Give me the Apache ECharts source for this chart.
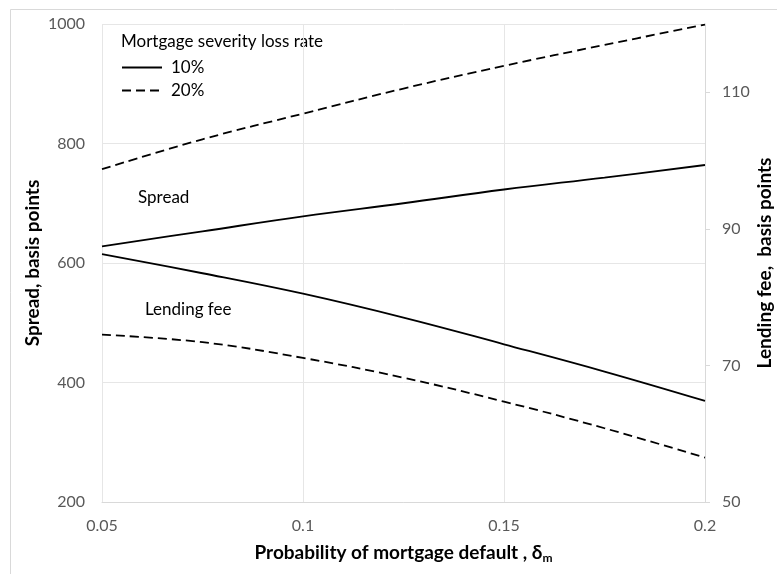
<!DOCTYPE html>
<html>
<head>
<meta charset="utf-8">
<script src="https://cdn.jsdelivr.net/npm/echarts@6/dist/echarts.min.js"></script>
<style>
html,body{margin:0;padding:0;background:#fff;}
#chart{width:777px;height:574px;}
</style>
</head>
<body>
<div id="chart"></div>
<script>
// Probability of mortgage default
var defaultProb = [0.05, 0.075, 0.1, 0.125, 0.15, 0.175, 0.2];
// Spread (basis points, left axis)
var spread10 = [628, 653, 678, 700, 723, 743, 764];
var spread20 = [757, 807, 850, 892, 930, 965, 999];
// Lending fee (basis points, right axis)
var fee10 = [86.3, 83.5, 80.5, 77.0, 73.1, 69.1, 64.8];
var fee20 = [74.5, 73.4, 71.1, 68.2, 64.7, 60.8, 56.5];
// tick labels
var xTicks = ['0.05', '0.1', '0.15', '0.2'];

function pairs(xs, ys) { return xs.map(function (x, i) { return [x, ys[i]]; }); }

var FONT = 'Lato';
var chart = echarts.init(document.getElementById('chart'));
var lineSolid = { color: '#000', width: 1.8, type: 'solid' };
var lineDash = { color: '#000', width: 1.8, type: [9, 5] };

chart.setOption({
  animation: false,
  backgroundColor: '#fff',
  textStyle: { fontFamily: FONT },
  grid: { left: 102, right: 72, top: 24, bottom: 72, outerBoundsMode: 'none', containLabel: false },
  legend: {
    data: ['10%', '20%'],
    orient: 'vertical',
    left: 116, top: 54,
    itemWidth: 40, itemHeight: 10, itemGap: 6,
    itemStyle: { opacity: 0 },
    textStyle: { fontFamily: FONT, fontSize: 17, color: '#000', padding: [0, 0, 0, 4] }
  },
  xAxis: {
    type: 'value', min: 0.05, max: 0.2, interval: 0.05,
    name: '{a|Probability of mortgage default , δ}{s|m}',
    nameLocation: 'middle', nameGap: 39,
    nameTextStyle: {
      rich: {
        a: { fontFamily: FONT, fontSize: 19, fontWeight: 'bold', color: '#000' },
        s: { fontFamily: FONT, fontSize: 12, fontWeight: 'bold', color: '#000', padding: [11, 0, 0, 0] }
      }
    },
    axisLine: { show: true, lineStyle: { color: '#d9d9d9', width: 1 } },
    axisTick: { show: false },
    splitLine: { show: true, lineStyle: { color: '#e6e6e6', width: 1 } },
    axisLabel: {
      fontFamily: FONT, fontSize: 16, color: '#595959', margin: 16,
      formatter: function (v) {
        var s = String(Math.round(v * 100) / 100);
        return xTicks.indexOf(s) >= 0 ? s : '';
      }
    }
  },
  yAxis: [
    {
      type: 'value', min: 200, max: 1000, interval: 200, position: 'left',
      name: 'Spread, basis points', nameLocation: 'middle', nameGap: 60, nameRotate: 90,
      nameMoveOverlap: false,
      nameTextStyle: { fontFamily: FONT, fontSize: 19, fontWeight: 'bold', color: '#000' },
      axisLine: { show: false }, axisTick: { show: false },
      splitLine: { show: true, lineStyle: { color: '#e6e6e6', width: 1 } },
      axisLabel: { fontFamily: FONT, fontSize: 16, color: '#595959', margin: 17,
        formatter: function (v) { return String(v); } }
    },
    {
      type: 'value', min: 50, max: 120, interval: 20, position: 'right',
      name: 'Lending fee,  basis points', nameLocation: 'middle', nameGap: 50, nameRotate: 90,
      nameMoveOverlap: false,
      nameTextStyle: { fontFamily: FONT, fontSize: 19, fontWeight: 'bold', color: '#000' },
      axisLine: { show: true, lineStyle: { color: '#d9d9d9', width: 1 } },
      axisTick: { show: true, length: 5, inside: false, lineStyle: { color: '#d9d9d9' } },
      splitLine: { show: false },
      axisLabel: { fontFamily: FONT, fontSize: 16, color: '#595959', margin: 17, showMaxLabel: false,
        formatter: function (v) { return String(v); } }
    }
  ],
  series: [
    { name: '10%', type: 'line', yAxisIndex: 0, data: pairs(defaultProb, spread10), smooth: 0.4,
      symbol: 'none', lineStyle: lineSolid, itemStyle: { color: '#000' } },
    { name: '20%', type: 'line', yAxisIndex: 0, data: pairs(defaultProb, spread20), smooth: 0.4,
      symbol: 'none', lineStyle: lineDash, itemStyle: { color: '#000' } },
    { name: '10%', type: 'line', yAxisIndex: 1, data: pairs(defaultProb, fee10), smooth: 0.4,
      symbol: 'none', lineStyle: lineSolid, itemStyle: { color: '#000' } },
    { name: '20%', type: 'line', yAxisIndex: 1, data: pairs(defaultProb, fee20), smooth: 0.4,
      symbol: 'none', lineStyle: lineDash, itemStyle: { color: '#000' } }
  ],
  graphic: [
    { type: 'rect', left: 8, top: 7, silent: true, z: -10,
      shape: { width: 800, height: 600 }, style: { fill: 'none', stroke: '#d9d9d9', lineWidth: 1 } },
    { type: 'text', left: 121, top: 33, style: { text: 'Mortgage severity loss rate', fontFamily: FONT, fontSize: 17, fill: '#000' } },
    { type: 'text', left: 138, top: 189, style: { text: 'Spread', fontFamily: FONT, fontSize: 17, fill: '#000' } },
    { type: 'text', left: 145, top: 301, style: { text: 'Lending fee', fontFamily: FONT, fontSize: 17, fill: '#000' } }
  ]
});
</script>
</body>
</html>
